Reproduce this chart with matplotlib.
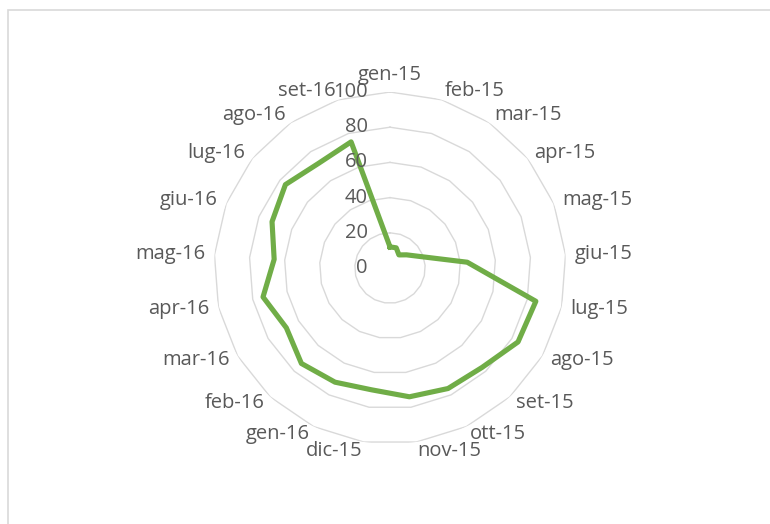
import numpy as np
import matplotlib
matplotlib.use('Agg')
import matplotlib.pyplot as plt
from matplotlib.patches import Rectangle

months = ['gen-15', 'feb-15', 'mar-15', 'apr-15', 'mag-15', 'giu-15', 'lug-15',
          'ago-15', 'set-15', 'ott-15', 'nov-15', 'dic-15', 'gen-16', 'feb-16',
          'mar-16', 'apr-16', 'mag-16', 'giu-16', 'lug-16', 'ago-16', 'set-16']
values = [12, 12, 9, 12, 18, 44, 85, 84, 77, 76, 74, 70, 72, 74,
          68, 74, 66, 72, 76, 72, 75]
rings = [20, 40, 60, 80, 100]
ring_labels = ['0', '20', '40', '60', '80', '100']

plt.rcParams['font.family'] = ['Open Sans', 'DejaVu Sans']
txt_color = '#595959'
grid_color = '#d9d9d9'

fig = plt.figure(figsize=(7.7, 5.24), dpi=100)
fig.patch.set_facecolor('white')

# outer chart frame (only top and left edges visible)
fig.patches.append(Rectangle((8 / 770, -0.1), 1.2, 1 - 10 / 524 + 0.1,
                             transform=fig.transFigure, fill=False,
                             edgecolor=grid_color, lw=1.2))

cx, cy, R = 390 / 770, 1 - 268 / 524, 176
ax = fig.add_axes([cx - R / 770, cy - R / 524, 2 * R / 770, 2 * R / 524],
                  projection='polar')
ax.set_theta_zero_location('N')
ax.set_theta_direction(-1)
ax.set_ylim(0, 100)
ax.grid(False)
ax.set_xticks([])
ax.set_yticks([])
ax.spines['polar'].set_visible(False)
ax.patch.set_alpha(0)

n = len(months)
theta = np.arange(n) * 2 * np.pi / n
theta_c = np.append(theta, theta[0])

# polygon gridlines like excel
for r in rings:
    ax.plot(theta_c, [r] * (n + 1), color=grid_color, lw=1.0, zorder=1)

vals_c = values + [values[0]]
ax.plot(theta_c, vals_c, color='#70AD47', lw=3.7, solid_joinstyle='round',
        zorder=3, clip_on=False)

# category labels
for t, lab in zip(theta, months):
    s, c = np.sin(t), np.cos(t)
    if abs(s) < 0.05:
        ha = 'center'
        va = 'bottom' if c > 0 else 'top'
        r = 104
    else:
        ha = 'left' if s > 0 else 'right'
        va = 'center'
        r = 105
    ax.text(t, r, lab, ha=ha, va=va, fontsize=14.5, color=txt_color,
            clip_on=False)

# value axis labels
for i, lab in enumerate(ring_labels):
    ax.annotate(lab, xy=(0, i * 20), xytext=(-22, 0), textcoords='offset pixels',
                ha='right', va='center', fontsize=14.5, color=txt_color,
                annotation_clip=False, zorder=4)

fig.savefig('out.png', dpi=100, facecolor='white')
